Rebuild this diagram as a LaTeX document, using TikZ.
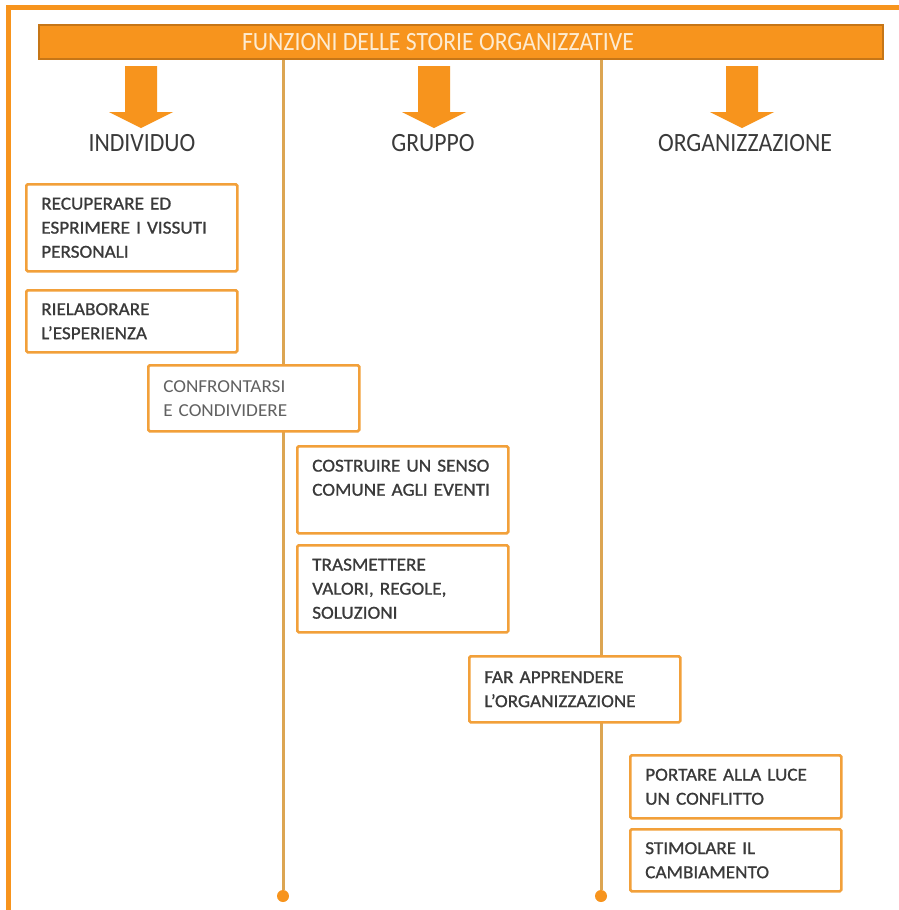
\documentclass[tikz,border=0pt]{standalone}
\usepackage{fontspec}
\setmainfont{Carlito}
\newfontfamily\narrowfam{Carlito}[FakeStretch=0.9]
\newfontfamily\boxfam{Carlito}[FakeStretch=1.05, FakeBold=1]
\newfontfamily\lightboxfam{Carlito}[FakeStretch=1.05]
\usetikzlibrary{positioning}

\definecolor{storyorange}{HTML}{F7941D}
\definecolor{boxorange}{HTML}{F2A03A}
\definecolor{stemtan}{HTML}{DCA552}
\definecolor{labelgray}{HTML}{3A3A3A}
\definecolor{titlecream}{HTML}{FDEBD0}

\newcommand{\boxfont}{\boxfam\fontsize{10.4}{13.7}\selectfont}

\tikzset{
    funcbox/.style={draw=boxorange, line width=0.5mm, fill=white, anchor=north west,
        text width=36.2mm, align=left, inner xsep=3mm, inner ysep=0pt,
        font=\boxfont, text=labelgray, rounded corners=0.3mm},
    headlabel/.style={font=\narrowfam\fontsize{15}{18}\selectfont, text=labelgray},
    stem/.style={stemtan, line width=0.6mm},
    stemdot/.style={circle, fill=storyorange, minimum size=2.4mm, inner sep=0pt},
}

\begin{document}
\begin{tikzpicture}[x=0.2mm, y=-0.2mm]
    \useasboundingbox[fill=white] (0,0) rectangle (899,910);
    % frame
    \draw[storyorange, line width=1mm] (8.5,910) -- (8.5,7.5) -- (899,7.5);
    % title bar
    \node[draw=storyorange!80!black, fill=storyorange, line width=0.3mm,
          minimum width=168.8mm, minimum height=6.8mm, inner sep=0pt] (title) at (461,42) {};
    \node[font=\narrowfam\fontsize{15}{18}\selectfont, text=titlecream] (titletext) at (438,42)
        {FUNZIONI DELLE STORIE ORGANIZZATIVE};
    % arrows
    \foreach \ax in {141,434,742}
        \fill[storyorange] ({\ax-16},66) -- ({\ax+16},66) -- ({\ax+16},112)
            -- ({\ax+32},112) -- (\ax,128) -- ({\ax-32},112) -- ({\ax-16},112) -- cycle;
    \node[headlabel] (individuo) at (142,143) {INDIVIDUO};
    \node[headlabel] (gruppo) at (433,143) {GRUPPO};
    \node[headlabel] (organizz) at (745,143) {ORGANIZZAZIONE};
    % stems
    \node[stemdot] (dotA) at (283,896) {};
    \node[stemdot] (dotB) at (601,896) {};
    \draw[stem] (title.south -| dotA) -- (dotA);
    \draw[stem] (title.south -| dotB) -- (dotB);
    % boxes
    \node[funcbox, minimum height=17.4mm] (recuperare) at (25,183)
        {RECUPERARE ED\\ESPRIMERE I VISSUTI\\PERSONALI};
    \node[funcbox, minimum height=12.4mm] (rielaborare) at (25,289)
        {RIELABORARE\\L’ESPERIENZA};
    \node[funcbox, minimum height=13.2mm, text=labelgray!80,
          font=\lightboxfam\fontsize{10.4}{13.7}\selectfont] (confrontarsi) at (147,364)
        {CONFRONTARSI\\E CONDIVIDERE};
    \node[funcbox, minimum height=17.4mm] (costruire) at (296,445)
        {COSTRUIRE UN SENSO\\COMUNE AGLI EVENTI\\\mbox{}};
    \node[funcbox, minimum height=17.4mm] (trasmettere) at (296,544)
        {TRASMETTERE\\VALORI, REGOLE,\\SOLUZIONI};
    \node[funcbox, minimum height=13.2mm] (apprendere) at (468,655)
        {FAR APPRENDERE\\L’ORGANIZZAZIONE};
    \node[funcbox, minimum height=12.6mm] (portare) at (629,754)
        {PORTARE ALLA LUCE\\UN CONFLITTO};
    \node[funcbox, minimum height=12.4mm] (stimolare) at (629,828)
        {STIMOLARE IL\\CAMBIAMENTO};
\end{tikzpicture}
\end{document}
